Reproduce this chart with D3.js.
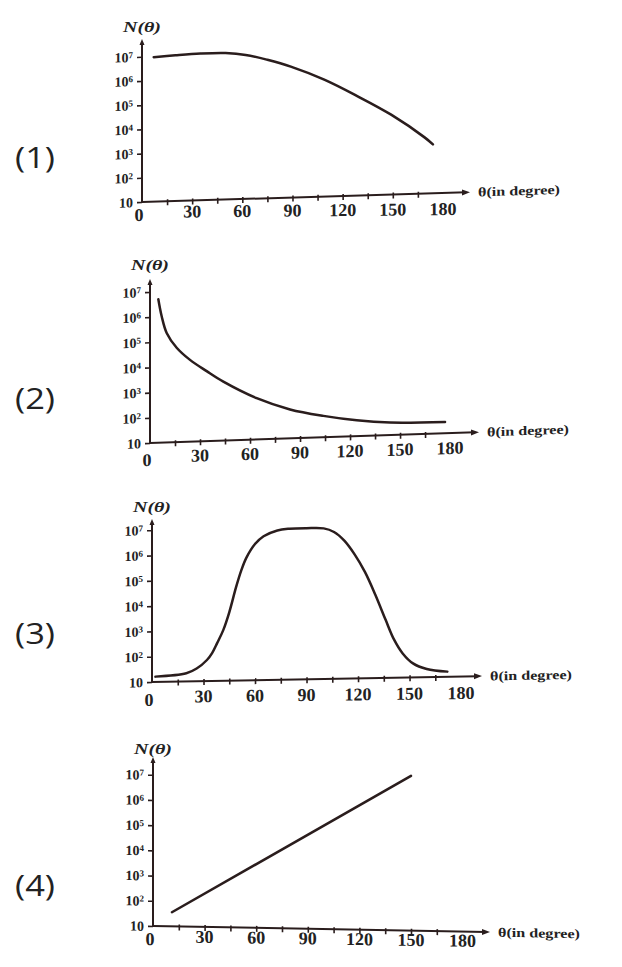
<!DOCTYPE html>
<html>
<head>
<meta charset="utf-8">
<script src="https://cdn.jsdelivr.net/npm/d3@7"></script>
<style>
  body { margin: 0; background: #fff; }
  svg { display: block; }
</style>
</head>
<body>
<div id="chart"></div>
<script>
// Tick values shared by the four panels
const xLabels = [0, 30, 60, 90, 120, 150, 180];
const xMinor = [15, 30, 45, 60, 75, 90, 105, 120, 135, 150, 165];
const yDecades = [1, 2, 3, 4, 5, 6, 7];

// Curves: theta (degrees) and log10 N(theta)
const theta1 = [7, 20, 35, 50, 62, 75, 89, 109, 129, 149, 169, 174];
const logN1 = [6.97, 7.02, 7.06, 7.05, 6.95, 6.72, 6.41, 5.83, 5.10, 4.30, 3.32, 3.02];

const theta2 = [5, 7, 10, 16, 24, 34, 44, 64, 84, 104, 124, 144, 177];
const logN2 = [6.70, 6.02, 5.35, 4.75, 4.25, 3.78, 3.34, 2.64, 2.15, 1.85, 1.63, 1.50, 1.45];

const theta3 = [2, 20, 26, 32, 35, 38, 41.5, 45, 49, 52, 55, 60, 65, 73, 80, 90, 100, 106, 112, 118, 124, 130, 136, 141, 146, 152, 160, 172];
const logN3 = [1.21, 1.32, 1.50, 1.83, 2.10, 2.50, 3.00, 3.70, 4.70, 5.35, 5.85, 6.38, 6.68, 6.90, 6.96, 6.97, 6.95, 6.80, 6.45, 5.90, 5.20, 4.30, 3.30, 2.50, 1.95, 1.55, 1.32, 1.20];

const theta4 = [11, 150];
const logN4 = [1.56, 7.14];

const tags = ["(1)", "(2)", "(3)", "(4)"];

// Page layout of each panel (the scan is slightly sheared, hence skew)
const layout = [
    { x0: 142, y0: 202, dec: 24.2, pxDeg: 1.672, xEnd: 470, yTop: 42, skew: 0.030, labDy: 10, labSkew: 0.01, nY: 27, tagY: 156 },
    { x0: 150, y0: 443, dec: 25.17, pxDeg: 1.667, xEnd: 479, yTop: 282, skew: 0.033, labDy: 14, labSkew: 0.03, nY: 265, tagY: 397 },
    { x0: 152, y0: 682, dec: 25.3, pxDeg: 1.717, xEnd: 482, yTop: 522, skew: 0.018, labDy: 15, labSkew: 0.013, nY: 507, tagY: 632 },
    { x0: 153, y0: 926, dec: 25.2, pxDeg: 1.72, xEnd: 490, yTop: 760, skew: -0.018, labDy: 10, labSkew: -0.015, nY: 749, tagY: 884 }
];

const series = [
    [theta1, logN1],
    [theta2, logN2],
    [theta3, logN3],
    [theta4, logN4]
];

const ink = "#2a1d1d";
const serif = "'Liberation Serif', 'DejaVu Serif', serif";
const deg = r => Math.atan(r) * 180 / Math.PI;

const svg = d3.select("#chart")
    .append("svg")
    .attr("width", 622)
    .attr("height", 967);

series.forEach(function(s, i) {
    const L = layout[i];

    const x = d3.scaleLinear()
        .domain([0, 180])
        .range([0, 180 * L.pxDeg]);

    const y = d3.scaleLog()
        .domain([10, 1e7])
        .range([0, -6 * L.dec]);

    // Panel number on the left
    svg.append("text")
        .attr("x", 15)
        .attr("y", L.tagY)
        .attr("dominant-baseline", "central")
        .attr("textLength", 40)
        .attr("lengthAdjust", "spacingAndGlyphs")
        .style("font-family", "'Open Sans', sans-serif")
        .style("font-size", "30px")
        .attr("fill", "#222")
        .text(tags[i]);

    // N(theta) title above the y axis
    svg.append("text")
        .attr("x", L.x0)
        .attr("y", L.nY)
        .attr("text-anchor", "middle")
        .attr("dominant-baseline", "central")
        .attr("textLength", 38)
        .attr("lengthAdjust", "spacingAndGlyphs")
        .style("font-family", serif)
        .style("font-style", "italic")
        .style("font-weight", "bold")
        .style("font-size", "15px")
        .attr("fill", "#222")
        .text("N(θ)");

    const g = svg.append("g")
        .attr("transform", "translate(" + L.x0 + "," + L.y0 + ") skewY(" + (-deg(L.skew)) + ")");

    // y axis
    const yAxis = d3.axisLeft(y)
        .tickValues(yDecades.map(k => Math.pow(10, k)))
        .tickSize(5)
        .tickPadding(4)
        .tickFormat(() => "10");

    const ya = g.append("g").call(yAxis);
    ya.select(".domain").remove();
    ya.selectAll("line").attr("stroke", ink).attr("stroke-width", 1.6);
    ya.selectAll("text")
        .style("font-family", serif)
        .style("font-weight", "bold")
        .style("font-size", "14px")
        .attr("fill", "#222")
        .attr("x", -9)
        .each(function(d, j) {
            const k = yDecades[j];
            if (k > 1) {
                d3.select(this).append("tspan")
                    .attr("dy", "-0.45em")
                    .style("font-size", "9px")
                    .text(k);
            }
        });

    g.append("line")
        .attr("x1", 0).attr("y1", 0)
        .attr("x2", 0).attr("y2", L.yTop - L.y0)
        .attr("stroke", ink)
        .attr("stroke-width", 2);

    g.append("path")
        .attr("d", "M0," + (L.yTop - L.y0 - 3) + "l-2.5,6h5z")
        .attr("fill", ink);

    // x axis with minor ticks every 15 degrees
    const xAxis = d3.axisBottom(x)
        .tickValues(xMinor)
        .tickSize(4)
        .tickFormat("");

    const xa = g.append("g").call(xAxis);
    xa.select(".domain").remove();
    xa.selectAll("line").attr("y1", -2).attr("stroke", ink).attr("stroke-width", 1.6);

    g.append("line")
        .attr("x1", 0).attr("y1", 0)
        .attr("x2", L.xEnd - L.x0 - 4).attr("y2", 0)
        .attr("stroke", ink)
        .attr("stroke-width", 2);

    g.append("path")
        .attr("d", "M" + (L.xEnd - L.x0) + ",0l-8,-3v6z")
        .attr("fill", ink);

    g.append("text")
        .attr("x", L.xEnd - L.x0 + 8)
        .attr("y", 0)
        .attr("dominant-baseline", "central")
        .attr("textLength", 82)
        .attr("lengthAdjust", "spacingAndGlyphs")
        .style("font-family", serif)
        .style("font-weight", "bold")
        .style("font-size", "13px")
        .attr("fill", "#222")
        .text("θ(in degree)");

    // x tick labels (they sit on a slightly different slant than the axis)
    const lg = svg.append("g")
        .attr("transform", "translate(" + L.x0 + "," + (L.y0 + L.labDy) + ") skewY(" + (-deg(L.labSkew)) + ")");

    lg.selectAll("text")
        .data(xLabels)
        .enter()
        .append("text")
        .attr("x", d => d === 0 ? -3 : x(d))
        .attr("y", d => d === 0 ? 3 : 0)
        .attr("text-anchor", "middle")
        .attr("dominant-baseline", "central")
        .style("font-family", serif)
        .style("font-weight", "bold")
        .style("font-size", "18px")
        .attr("fill", "#222")
        .text(d => d);

    // The curve
    const pts = s[0].map((t, j) => [t, s[1][j]]);

    g.append("path")
        .datum(pts)
        .attr("fill", "none")
        .attr("stroke", ink)
        .attr("stroke-width", 2.5)
        .attr("stroke-linecap", "round")
        .attr("d", d3.line()
            .curve(d3.curveCatmullRom.alpha(0.5))
            .x(d => x(d[0]))
            .y(d => y(Math.pow(10, d[1])))
        );
});
</script>
</body>
</html>
